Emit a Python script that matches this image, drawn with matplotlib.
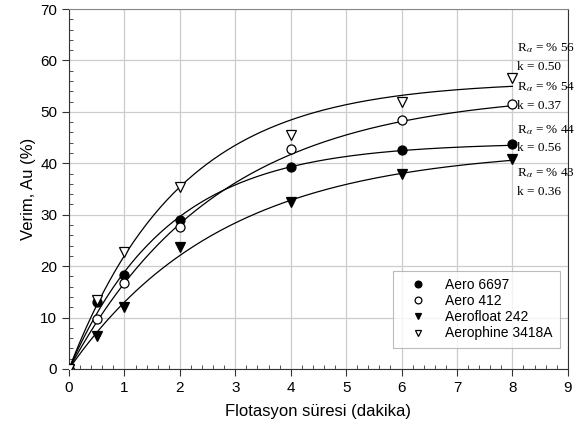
import matplotlib.pyplot as plt
import numpy as np
from matplotlib.ticker import MultipleLocator

plt.switch_backend('Agg')
plt.rcParams['font.family'] = ['Liberation Sans', 'DejaVu Sans']
plt.rcParams['mathtext.fontset'] = 'stix'

# Flotation time (min)
t = [0, 0.5, 1, 2, 4, 6, 8]

# Recovery, Au (%)
aero_6697 = [0, 13.0, 18.2, 29.0, 39.3, 42.5, 43.8]
aero_412 = [0, 9.7, 16.8, 27.6, 42.7, 48.5, 51.5]
aerofloat_242 = [0, 6.5, 12.0, 23.8, 32.5, 38.0, 40.8]
aerophine_3418a = [0, 13.5, 22.8, 35.3, 45.5, 52.0, 56.5]

# first-order fit parameters (R_inf, k) shown on the chart
fit_6697 = (44, 0.56)
fit_412 = (54, 0.37)
fit_242 = (43, 0.36)
fit_3418a = (56, 0.50)

series = [
    ("Aero 6697", aero_6697, fit_6697, 'o', 'black'),
    ("Aero 412", aero_412, fit_412, 'o', 'white'),
    ("Aerofloat 242", aerofloat_242, fit_242, 'v', 'black'),
    ("Aerophine 3418A", aerophine_3418a, fit_3418a, 'v', 'white'),
]

# annotation text positions (y, data units)
notes = [(fit_3418a, 62.4, 58.8), (fit_412, 54.9, 51.2), (fit_6697, 46.5, 43.0), (fit_242, 38.1, 34.4)]

fig = plt.figure(figsize=(5.8, 4.32), dpi=100)
ax = fig.add_axes([0.119, 0.146, 0.860, 0.833])

tt = np.linspace(0, 8, 200)
for label, y, (rinf, k), mk, fc in series:
    ax.plot(tt, rinf * (1 - np.exp(-k * tt)), color='black', linewidth=0.9, zorder=2)
for label, y, (rinf, k), mk, fc in series:
    ax.plot(t, y, mk, markersize=6.5, markerfacecolor=fc, markeredgecolor='black',
            markeredgewidth=0.9, label=label, zorder=3)

for (rinf, k), y1, y2 in notes:
    ax.text(8.08, y1, r"R$_\alpha$ = %% %d" % rinf, fontsize=9.5, family='Liberation Serif', va='center')
    ax.text(8.08, y2, "k = %.2f" % k, fontsize=9.5, family='Liberation Serif', va='center')

ax.set_xlim(0, 9)
ax.set_ylim(0, 70)
ax.xaxis.set_major_locator(MultipleLocator(1))
ax.xaxis.set_minor_locator(MultipleLocator(0.2))
ax.yaxis.set_major_locator(MultipleLocator(10))
ax.yaxis.set_minor_locator(MultipleLocator(2))
ax.tick_params(which='major', direction='out', length=5, labelsize=11, color='#333333')
ax.tick_params(which='minor', direction='in', length=3, color='#333333')
ax.grid(True, which='major', color='#cccccc', linewidth=0.9)
ax.set_axisbelow(True)
for s in ['left', 'bottom', 'right']:
    ax.spines[s].set_color('#333333')
ax.spines['top'].set_color('#888888')

ax.set_xlabel("Flotasyon süresi (dakika)", fontsize=12, labelpad=7)
ax.set_ylabel("Verim, Au (%)", fontsize=12, labelpad=3)

leg = ax.legend(loc='lower right', bbox_to_anchor=(0.984, 0.058), borderaxespad=0,
                fontsize=10, frameon=True, fancybox=False, edgecolor='#aaaaaa',
                borderpad=0.55, handletextpad=0.7, labelspacing=0.15, handlelength=2.5,
                markerscale=0.75)
leg.get_frame().set_linewidth(0.8)

plt.savefig("out.png", dpi=100)
plt.close(fig)
